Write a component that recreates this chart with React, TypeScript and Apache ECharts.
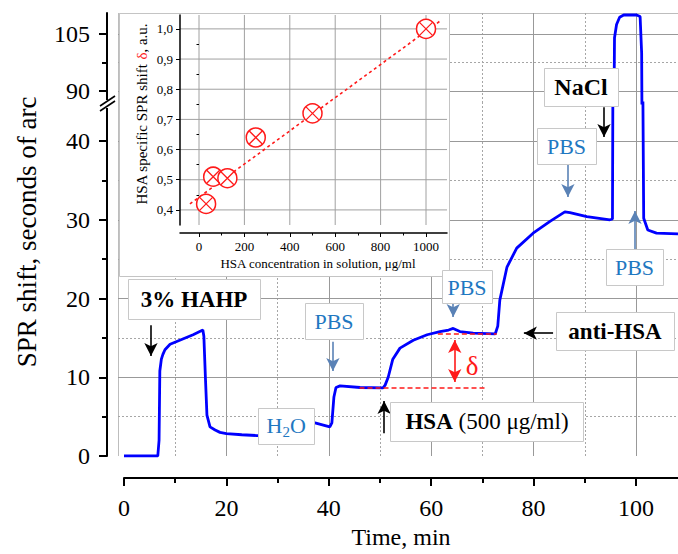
import React, { useEffect, useRef } from 'react';
import * as echarts from 'echarts';

// SPR sensorgram: time (min) vs. resonance shift (seconds of arc)
const timeMin = [
  0, 6.6, 6.85, 7.0, 7.3, 7.6, 8.0, 9.0, 11.6, 13.5,
  15.4, 15.6, 15.9, 16.2, 16.8, 17.8, 18.75, 20, 23, 25.9,
  29, 31.5, 32.5, 35, 37.3, 40.2, 40.6, 41.0, 41.4, 42.2,
  46.1, 50.6, 51.0, 51.6, 52.5, 53.9, 56.5, 59.2, 61.7, 63.4,
  64.3, 65.6, 68.2, 72.5, 73.0, 73.4, 74.8, 76.7, 79.9, 83.2,
  86.1, 87.1, 90.4, 94.9, 95.4, 95.6, 95.8, 96.2, 96.8, 97.6,
  100.1, 100.8, 101.1, 101.3, 101.5, 102.3, 104, 108.2,
];
const sprShift = [
  0, 0, 2, 10.8, 12.3, 12.9, 13.5, 14.2, 14.9, 15.4,
  16.0, 15.2, 10, 5.2, 3.7, 3.3, 3.0, 2.85, 2.7, 2.6,
  2.6, 2.7, 4.5, 4.4, 4.2, 3.7, 4.2, 7.5, 8.7, 8.9,
  8.7, 8.65, 9.0, 10.0, 12.3, 13.7, 14.7, 15.4, 15.8, 16.0,
  16.2, 15.8, 15.6, 15.5, 16.5, 19.8, 24.0, 26.4, 28.3, 29.8,
  31.0, 30.9, 30.4, 30.0, 30.1, 70, 104, 107.5, 109.4, 110.0,
  110.0, 109.6, 100, 50, 30.2, 28.7, 28.3, 28.2,
];

// HSA baseline and plateau levels that define the specific shift delta
const hsaBaseline = 8.65;
const hsaPlateau = 15.5;

// Main axes ticks
const lowerMajorTicks = [0, 10, 20, 30, 40];
const lowerMinorTicks = [5, 15, 25, 35];
const upperMajorTicks = [90, 105];
const upperMinorTicks = [97.5];
const timeMajorTicks = [0, 20, 40, 60, 80, 100];
const timeMinorTicks = [10, 30, 50, 70, 90];
const timeGridMajor = [20, 40, 60, 80, 100];

// Inset: calibration of specific shift vs. HSA concentration
const hsaConc = [31.25, 62.5, 125, 250, 500, 1000];
const hsaDelta = [0.42, 0.51, 0.505, 0.64, 0.72, 1.0];
const fitConc = [-40, 1060];
const fitDelta = [0.42, 1.025];
const insetXTicks = [0, 200, 400, 600, 800, 1000];
const insetXMinor = [100, 300, 500, 700, 900];
const insetYTicks = [0.4, 0.5, 0.6, 0.7, 0.8, 0.9, 1.0];
const insetYMinor = [0.45, 0.55, 0.65, 0.75, 0.85, 0.95];

const FONT = "'Liberation Serif', 'Times New Roman', Times, serif";
const PBS_TEXT = '#1f78c1';
const PBS_ARROW = '#5a82b6';
const RED = '#ff1a1a';
const GRID_SOLID = { color: '#999999', width: 1, type: 'solid', opacity: 1 };
const GRID_DOT = { color: '#a6a6a6', width: 1, type: [2, 2], opacity: 1 };

const X_MIN = -1.17;
const X_MAX = 108.2;
const UP_MIN = 86.84;
const UP_MAX = 110.53;
const LOW_MIN = 0;
const LOW_MAX = 44.83;
const IN_X_MIN = -83.7;
const IN_X_MAX = 1092.5;
const IN_Y_MIN = 0.35;
const IN_Y_MAX = 1.046;

const font = (size: number, bold = false) => `${bold ? 'bold ' : ''}${size}px ${FONT}`;

let measureCtx: CanvasRenderingContext2D | null = null;
const textWidth = (text: string, f: string) => {
  if (!measureCtx) measureCtx = document.createElement('canvas').getContext('2d');
  if (!measureCtx) return text.length * 7;
  measureCtx.font = f;
  return measureCtx.measureText(text).width;
};

// straight grid segments spanning a panel, built from tick values
const vLines = (xs: number[], y0: number, y1: number, style: object) =>
  xs.map((v) => ({ coords: [[v, y0], [v, y1]], lineStyle: style }));
const hLines = (ys: number[], x0: number, x1: number, style: object) =>
  ys.map((v) => ({ coords: [[x0, v], [x1, v]], lineStyle: style }));

const gridSeries = (xi: number, yi: number, z: number, data: object[]) => ({
  type: 'lines',
  coordinateSystem: 'cartesian2d',
  xAxisIndex: xi,
  yAxisIndex: yi,
  z,
  silent: true,
  polyline: false,
  lineStyle: { opacity: 1, curveness: 0 },
  data,
});

// inset grid as one broken polyline: each tick gives a full-span segment
const insetGridPath = () => {
  const pts: (number | string)[][] = [];
  insetXTicks.forEach((v) => {
    pts.push([v, IN_Y_MIN], [v, IN_Y_MAX], [v, '-']);
  });
  insetYTicks.forEach((v) => {
    pts.push([IN_X_MIN, v], [IN_X_MAX, v], [IN_X_MAX, '-']);
  });
  return pts;
};

const arrow = (from: number[], to: number[], color: string) => [
  { coord: from, symbol: 'none', lineStyle: { color, width: 1.6, type: 'solid' } },
  { coord: to, symbol: 'arrow', symbolSize: [10, 13] },
];

const dashed = (t0: number, t1: number, v: number) => [
  { coord: [t0, v], symbol: 'none', lineStyle: { color: RED, width: 1.5, type: [5, 3] } },
  { coord: [t1, v], symbol: 'none' },
];

const yAxisMain = (grid: number, min: number, max: number, ticks: number[], withLine: boolean, long: boolean) => ({
  type: 'value',
  gridIndex: grid,
  position: 'left',
  offset: 11,
  min,
  max,
  axisLine: { show: withLine, onZero: false, lineStyle: { color: '#000', width: 2 } },
  axisTick: { show: true, customValues: ticks, length: long ? 8 : 5, lineStyle: { color: '#000', width: 2 } },
  axisLabel: withLine
    ? { show: true, customValues: ticks, margin: 17, fontSize: 24, fontFamily: FONT, color: '#000' }
    : { show: false },
  splitLine: { show: false },
});

const box = (x: number, y: number, w: number, h: number) => ({
  type: 'rect',
  z: 10,
  silent: true,
  shape: { x: x + 0.5, y: y + 0.5, width: w, height: h },
  style: { fill: '#ffffff', stroke: '#c8c8c8', lineWidth: 1 },
});

const txt = (x: number, y: number, text: string, extra: Record<string, unknown> = {}, rotation = 0) => ({
  type: 'text',
  z: 11,
  silent: true,
  x,
  y,
  rotation,
  style: {
    text,
    font: font(22),
    fill: '#000',
    align: 'center',
    verticalAlign: 'middle',
    ...extra,
  },
});

// a run of differently styled pieces laid out along a line, centred on (cx, cy)
const textRun = (cx: number, cy: number, parts: { text: string; font: string; fill: string }[], vertical: boolean) => {
  const widths = parts.map((p) => textWidth(p.text, p.font));
  const total = widths.reduce((a, b) => a + b, 0);
  let pos = -total / 2;
  return parts.map((p, i) => {
    const el = vertical
      ? txt(cx, cy - pos, p.text, { font: p.font, fill: p.fill, align: 'left' }, Math.PI / 2)
      : txt(cx + pos, cy, p.text, { font: p.font, fill: p.fill, align: 'left' });
    pos += widths[i];
    return el;
  });
};

function buildOption() {
  const curve = timeMin.map((t, i) => [t, sprShift[i]]);
  const points = hsaConc.map((c, i) => [c, hsaDelta[i]]);
  const fit = fitConc.map((c, i) => [c, fitDelta[i]]);
  const insetFont = font(15);

  return {
    animation: false,
    backgroundColor: '#ffffff',
    grid: [
      { left: 118, top: 13, width: 560, height: 90, containLabel: false, outerBoundsMode: 'none' },
      { left: 118, top: 103, width: 560, height: 353, containLabel: false, outerBoundsMode: 'none' },
      { left: 124, top: 477, width: 554, height: 1, containLabel: false, outerBoundsMode: 'none' },
      { left: 180, top: 15, width: 267, height: 210, containLabel: false, outerBoundsMode: 'none' },
    ],
    xAxis: [
      { type: 'value', gridIndex: 0, min: X_MIN, max: X_MAX, show: false },
      { type: 'value', gridIndex: 1, min: X_MIN, max: X_MAX, show: false },
      {
        type: 'value',
        gridIndex: 2,
        position: 'bottom',
        min: 0,
        max: X_MAX,
        axisLine: { show: true, onZero: false, lineStyle: { color: '#000', width: 2 } },
        axisTick: { show: true, customValues: timeMajorTicks, length: 8, lineStyle: { color: '#000', width: 2 } },
        axisLabel: { show: true, customValues: timeMajorTicks, margin: 18, fontSize: 24, fontFamily: FONT, color: '#000' },
        splitLine: { show: false },
        name: 'Time, min',
        nameLocation: 'middle',
        nameGap: 47,
        nameTextStyle: { fontSize: 24, fontFamily: FONT, color: '#000' },
      },
      {
        type: 'value',
        gridIndex: 2,
        position: 'bottom',
        min: 0,
        max: X_MAX,
        axisLine: { show: false },
        axisTick: { show: true, customValues: timeMinorTicks, length: 5, lineStyle: { color: '#000', width: 2 } },
        axisLabel: { show: false },
        splitLine: { show: false },
      },
      {
        type: 'value',
        gridIndex: 3,
        position: 'bottom',
        offset: 8,
        min: IN_X_MIN,
        max: IN_X_MAX,
        z: 8,
        axisLine: { show: true, onZero: false, lineStyle: { color: '#000', width: 1.5 } },
        axisTick: { show: true, customValues: insetXTicks, length: 4, lineStyle: { color: '#000', width: 1 } },
        axisLabel: {
          show: true,
          customValues: insetXTicks,
          margin: 7,
          fontSize: 13,
          fontFamily: FONT,
          color: '#000',
          formatter: (v: number) => String(v),
        },
        splitLine: { show: false },
      },
      {
        type: 'value',
        gridIndex: 3,
        position: 'bottom',
        offset: 8,
        min: IN_X_MIN,
        max: IN_X_MAX,
        z: 8,
        axisLine: { show: false },
        axisTick: { show: true, customValues: insetXMinor, length: 2.5, lineStyle: { color: '#000', width: 1 } },
        axisLabel: { show: false },
        splitLine: { show: false },
      },
    ],
    yAxis: [
      yAxisMain(0, UP_MIN, UP_MAX, upperMajorTicks, true, true),
      yAxisMain(0, UP_MIN, UP_MAX, upperMinorTicks, false, false),
      yAxisMain(1, LOW_MIN, LOW_MAX, lowerMajorTicks, true, true),
      yAxisMain(1, LOW_MIN, LOW_MAX, lowerMinorTicks, false, false),
      { type: 'value', gridIndex: 2, min: 0, max: 1, show: false },
      {
        type: 'value',
        gridIndex: 3,
        position: 'left',
        min: IN_Y_MIN,
        max: IN_Y_MAX,
        z: 8,
        axisLine: { show: true, onZero: false, lineStyle: { color: '#000', width: 1.5 } },
        axisTick: { show: true, customValues: insetYTicks, length: 4, lineStyle: { color: '#000', width: 1 } },
        axisLabel: {
          show: true,
          customValues: insetYTicks,
          margin: 7,
          fontSize: 13,
          fontFamily: FONT,
          color: '#000',
          formatter: (v: number) => v.toFixed(1).replace('.', ','),
        },
        splitLine: { show: false },
      },
      {
        type: 'value',
        gridIndex: 3,
        position: 'left',
        min: IN_Y_MIN,
        max: IN_Y_MAX,
        z: 8,
        axisLine: { show: false },
        axisTick: { show: true, customValues: insetYMinor, length: 2.5, lineStyle: { color: '#000', width: 1 } },
        axisLabel: { show: false },
        splitLine: { show: false },
      },
    ],
    series: [
      // main panel grids (upper and lower segments of the broken axis)
      gridSeries(0, 0, 1, [
        ...vLines(timeGridMajor, UP_MIN, UP_MAX, GRID_SOLID),
        ...vLines(timeMinorTicks, UP_MIN, UP_MAX, GRID_DOT),
        ...hLines(upperMajorTicks, X_MIN, X_MAX, GRID_SOLID),
        ...hLines(upperMinorTicks, X_MIN, X_MAX, GRID_DOT),
      ]),
      gridSeries(1, 2, 1, [
        ...vLines(timeGridMajor, LOW_MIN, LOW_MAX, GRID_SOLID),
        ...vLines(timeMinorTicks, LOW_MIN, LOW_MAX, GRID_DOT),
        ...hLines(lowerMajorTicks, X_MIN, X_MAX, GRID_SOLID),
        ...hLines(lowerMinorTicks, X_MIN, X_MAX, GRID_DOT),
      ]),
      {
        type: 'line',
        xAxisIndex: 0,
        yAxisIndex: 0,
        z: 3,
        data: curve,
        showSymbol: false,
        clip: true,
        silent: true,
        lineStyle: { color: '#0000ff', width: 2.8 },
      },
      {
        type: 'line',
        xAxisIndex: 1,
        yAxisIndex: 2,
        z: 3,
        data: curve,
        showSymbol: false,
        clip: true,
        silent: true,
        lineStyle: { color: '#0000ff', width: 2.8 },
      },
      // delta construction and injection arrows
      {
        type: 'line',
        xAxisIndex: 1,
        yAxisIndex: 2,
        data: [],
        silent: true,
        markLine: {
          silent: true,
          animation: false,
          symbol: ['none', 'none'],
          label: { show: false },
          data: [
            dashed(46, 71, hsaBaseline),
            dashed(61.3, 72.8, hsaPlateau),
            [
              { coord: [64.6, hsaPlateau - 0.76], symbol: 'arrow', symbolSize: [10, 13], lineStyle: { color: RED, width: 1.6, type: 'solid' } },
              { coord: [64.6, hsaBaseline + 0.76], symbol: 'arrow', symbolSize: [10, 13] },
            ],
            arrow([5.27, 16.6], [5.27, 12.7], '#000'),
            arrow([40.8, 14.5], [40.8, 10.8], PBS_ARROW),
            arrow([50.8, 2.9], [50.8, 7.0], '#000'),
            arrow([64.3, 19.4], [64.3, 17.65], PBS_ARROW),
            arrow([83.8, 15.6], [78.1, 15.6], '#000'),
            arrow([93.75, 44.3], [93.75, 40.5], '#000'),
            arrow([86.7, 36.95], [86.7, 32.9], PBS_ARROW),
            arrow([99.8, 26.3], [99.8, 31.1], PBS_ARROW),
          ],
        },
      },
      // inset grid
      {
        type: 'line',
        xAxisIndex: 4,
        yAxisIndex: 5,
        z: 7,
        data: insetGridPath(),
        showSymbol: false,
        connectNulls: false,
        silent: true,
        lineStyle: { color: '#a0a0a0', width: 1, type: 'solid' },
      },
      {
        type: 'line',
        xAxisIndex: 4,
        yAxisIndex: 5,
        z: 8,
        data: fit,
        showSymbol: false,
        silent: true,
        lineStyle: { color: RED, width: 1.6, type: [3, 3] },
      },
      {
        type: 'scatter',
        xAxisIndex: 4,
        yAxisIndex: 5,
        z: 9,
        silent: true,
        data: points,
        symbol: 'circle',
        symbolSize: 19,
        itemStyle: { color: '#ffffff', borderColor: RED, borderWidth: 1.5, opacity: 1 },
      },
      {
        type: 'scatter',
        xAxisIndex: 4,
        yAxisIndex: 5,
        z: 10,
        silent: true,
        data: points,
        symbol: 'path://M0,0 L10,10 M10,0 L0,10',
        symbolSize: 13,
        itemStyle: { color: 'none', borderColor: RED, borderWidth: 1.3, opacity: 1 },
      },
    ],
    graphic: {
      elements: [
        // plot frame
        { type: 'line', z: 0, silent: true, shape: { x1: 118.5, y1: 13, x2: 118.5, y2: 456 }, style: { stroke: '#bdbdbd', lineWidth: 1 } },
        { type: 'line', z: 0, silent: true, shape: { x1: 118, y1: 13.5, x2: 678, y2: 13.5 }, style: { stroke: '#bdbdbd', lineWidth: 1 } },
        // axis break on the y axis
        { type: 'rect', z: 10, silent: true, shape: { x: 102, y: 100, width: 10, height: 8 }, style: { fill: '#ffffff' } },
        { type: 'line', z: 11, silent: true, shape: { x1: 100, y1: 106, x2: 115, y2: 96 }, style: { stroke: '#000', lineWidth: 1.6 } },
        { type: 'line', z: 11, silent: true, shape: { x1: 100, y1: 111, x2: 115, y2: 101 }, style: { stroke: '#000', lineWidth: 1.6 } },
        // y axis title
        txt(27, 232, 'SPR shift, seconds of arc', { font: font(27) }, Math.PI / 2),
        // inset panel
        { type: 'rect', z: 4, silent: true, shape: { x: 119.5, y: 13.5, width: 330, height: 263 }, style: { fill: '#ffffff', stroke: '#c4c4c4', lineWidth: 1 } },
        ...textRun(142, 114, [
          { text: 'HSA specific SPR shift ', font: insetFont, fill: '#000' },
          { text: 'δ', font: insetFont, fill: RED },
          { text: ', a.u.', font: insetFont, fill: '#000' },
        ], true),
        txt(318, 263, 'HSA concentration in solution, μg/ml', { font: font(13) }),
        // annotations
        box(128, 279, 132, 40),
        txt(194, 299, '3% HAHP', { font: font(23, true) }),
        box(305, 303, 58, 36),
        txt(334, 321, 'PBS', { fill: PBS_TEXT }),
        box(258, 408, 56, 36),
        txt(266.5, 425, 'H', { fill: PBS_TEXT, align: 'left' }),
        txt(282.4, 432, '2', { fill: PBS_TEXT, align: 'left', font: font(15) }),
        txt(289.9, 425, 'O', { fill: PBS_TEXT, align: 'left' }),
        box(390, 402, 193, 39),
        ...textRun(487, 421, [
          { text: 'HSA', font: font(23, true), fill: '#000' },
          { text: ' (500 μg/ml)', font: font(23), fill: '#000' },
        ], false),
        box(442, 270, 50, 33),
        txt(467, 287, 'PBS', { fill: PBS_TEXT }),
        box(556, 312, 118, 38),
        txt(615, 331, 'anti-HSA', { font: font(23, true) }),
        box(544, 68, 74, 38),
        txt(581, 87, 'NaCl', { font: font(24, true) }),
        box(537, 128, 59, 36),
        txt(566.5, 146, 'PBS', { fill: PBS_TEXT }),
        box(606, 249, 57, 36),
        txt(634.5, 267, 'PBS', { fill: PBS_TEXT }),
        txt(472, 366, 'δ', { fill: RED, font: font(27) }),
      ],
    },
  };
}

export default function App() {
  const ref = useRef<HTMLDivElement>(null);

  useEffect(() => {
    if (!ref.current) return;
    const chart = echarts.init(ref.current, null, { renderer: 'svg' });
    chart.setOption(buildOption() as any);
    return () => chart.dispose();
  }, []);

  return (
    <div
      ref={ref}
      style={{ position: 'fixed', left: 0, top: 0, width: 678, height: 554, background: '#ffffff' }}
    />
  );
}
